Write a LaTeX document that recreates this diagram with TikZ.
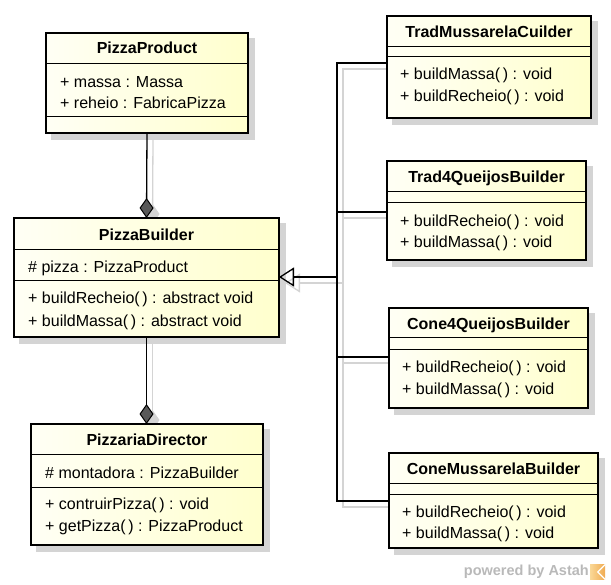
\documentclass[tikz,border=0pt]{standalone}
\usepackage{fontspec}
\setmainfont{Liberation Sans}
\usetikzlibrary{arrows.meta,backgrounds}
\definecolor{boxl}{RGB}{255,255,245}
\definecolor{boxr}{RGB}{255,255,205}
\definecolor{lshd}{RGB}{212,212,212}
\definecolor{wmark}{RGB}{185,185,185}
\definecolor{logoa}{RGB}{240,170,80}
\definecolor{logob}{RGB}{250,215,150}
\begin{document}
\begin{tikzpicture}[x=1pt,y=-1pt,
  classbox/.style={draw=black, line width=2.6pt, left color=boxl, right color=boxr,
    anchor=north west, inner sep=0pt, outer sep=0pt},
  boxshade/.style={fill=lshd, draw=lshd, line width=2.6pt},
  sepline/.style={line width=1pt},
  title/.style={font=\fontsize{16}{19}\selectfont\bfseries, inner sep=0pt, text height=11.5pt, text depth=0pt},
  member/.style={font=\fontsize{16}{19}\selectfont, inner sep=0pt, anchor=west, text height=11.5pt, text depth=0pt},
  conn/.style={line width=1.3pt, draw=black},
  connshd/.style={line width=1.3pt, draw=lshd},
  gentip/.style={-{Triangle[open, length=15pt, width=19pt, line width=1.3pt]}},
  comptip/.style={-{Diamond[length=20pt, width=14pt, line width=1pt, fill=#1]}},
]
\useasboundingbox (0,0) rectangle (611,585);

% junction coordinates
\coordinate (j) at (337,277);
\coordinate (jtm) at (337,63);
\coordinate (jt4) at (337,212);
\coordinate (jc4) at (337,357);
\coordinate (jcm) at (337,501);

% class boxes
\node[classbox, minimum width=202pt, minimum height=100pt] (pp) at (46,33) {};
\node[classbox, minimum width=265pt, minimum height=119pt] (pb) at (14,218) {};
\node[classbox, minimum width=232pt, minimum height=121pt] (pd) at (31,424) {};
\node[classbox, minimum width=204pt, minimum height=102pt] (tm) at (387,16) {};
\node[classbox, minimum width=199pt, minimum height=99pt] (t4) at (387,161) {};
\node[classbox, minimum width=199pt, minimum height=100pt] (c4) at (389,308) {};
\node[classbox, minimum width=209pt, minimum height=95pt] (cm) at (389,453) {};

% shadows of boxes and connectors
\begin{scope}[on background layer]
  \begin{scope}[transform canvas={xshift=6pt, yshift=-6pt}]
    \filldraw[boxshade] (pp.north west) rectangle (pp.south east);
    \filldraw[boxshade] (pb.north west) rectangle (pb.south east);
    \filldraw[boxshade] (pd.north west) rectangle (pd.south east);
    \filldraw[boxshade] (tm.north west) rectangle (tm.south east);
    \filldraw[boxshade] (t4.north west) rectangle (t4.south east);
    \filldraw[boxshade] (c4.north west) rectangle (c4.south east);
    \filldraw[boxshade] (cm.north west) rectangle (cm.south east);
    \draw[connshd, comptip={lshd}] (pp.south) -- (pb.north);
    \draw[connshd, comptip={lshd}] (pb.south) -- (pb.south |- pd.north);
    \draw[connshd] (tm.west |- jtm) -| (jcm) -- (cm.west |- jcm);
    \draw[connshd] (t4.west |- jt4) -- (jt4);
    \draw[connshd] (c4.west |- jc4) -- (jc4);
    \draw[connshd, gentip] (j) -- (pb.east |- j);
  \end{scope}
\end{scope}

% separators
\draw[sepline] (pp.west |- 0,64) -- (pp.east |- 0,64);
\draw[sepline] (pp.west |- 0,117) -- (pp.east |- 0,117);
\draw[sepline] (pb.west |- 0,250) -- (pb.east |- 0,250);
\draw[sepline] (pb.west |- 0,281) -- (pb.east |- 0,281);
\draw[sepline] (pd.west |- 0,455) -- (pd.east |- 0,455);
\draw[sepline] (pd.west |- 0,487) -- (pd.east |- 0,487);
\draw[sepline] (tm.west |- 0,47) -- (tm.east |- 0,47);
\draw[sepline] (tm.west |- 0,57) -- (tm.east |- 0,57);
\draw[sepline] (t4.west |- 0,192) -- (t4.east |- 0,192);
\draw[sepline] (t4.west |- 0,203) -- (t4.east |- 0,203);
\draw[sepline] (c4.west |- 0,338) -- (c4.east |- 0,338);
\draw[sepline] (c4.west |- 0,350) -- (c4.east |- 0,350);
\draw[sepline] (cm.west |- 0,483) -- (cm.east |- 0,483);
\draw[sepline] (cm.west |- 0,494) -- (cm.east |- 0,494);

% texts
\node[title] (ppt) at (147,48) {PizzaProduct};
\node[member] (ppa1) at (60,82) {+ massa : Massa};
\node[member] (ppa2) at (60,103) {+ reheio : FabricaPizza};

\node[title] (pbt) at (146.5,235) {PizzaBuilder};
\node[member] (pba1) at (28,267) {\# pizza : PizzaProduct};
\node[member] (pbm1) at (28,298) {+ buildRecheio(\,) : abstract void};
\node[member] (pbm2) at (28,321) {+ buildMassa(\,) : abstract void};

\node[title] (pdt) at (147,440) {PizzariaDirector};
\node[member] (pda1) at (45,473) {\# montadora : PizzaBuilder};
\node[member] (pdm1) at (45,504) {+ contruirPizza(\,) : void};
\node[member] (pdm2) at (45,526) {+ getPizza(\,) : PizzaProduct};

\node[title] (tmt) at (489,32) {TradMussarelaCuilder};
\node[member] (tmm1) at (400,74) {+ buildMassa(\,) : void};
\node[member] (tmm2) at (400,96) {+ buildRecheio(\,) : void};

\node[title] (t4t) at (486.5,177) {Trad4QueijosBuilder};
\node[member] (t4m1) at (400,221) {+ buildRecheio(\,) : void};
\node[member] (t4m2) at (400,242) {+ buildMassa(\,) : void};

\node[title] (c4t) at (488.5,324) {Cone4QueijosBuilder};
\node[member] (c4m1) at (402,367) {+ buildRecheio(\,) : void};
\node[member] (c4m2) at (402,389) {+ buildMassa(\,) : void};

\node[title] (cmt) at (493.5,469) {ConeMussarelaBuilder};
\node[member] (cmm1) at (402,512) {+ buildRecheio(\,) : void};
\node[member] (cmm2) at (402,533) {+ buildMassa(\,) : void};

% connectors
\draw[conn, comptip={black!65}] (pp.south) -- (pb.north);
\draw[conn, comptip={black!65}] (pb.south) -- (pb.south |- pd.north);
\draw[conn] (tm.west |- jtm) -| (jcm) -- (cm.west |- jcm);
\draw[conn] (t4.west |- jt4) -- (jt4);
\draw[conn] (c4.west |- jc4) -- (jc4);
\draw[conn, gentip] (j) -- (pb.east |- j);

% watermark
\node[font=\fontsize{14.5}{16}\selectfont\bfseries, text=wmark, inner sep=0pt, anchor=east] (wm) at (589,572) {powered by Astah};
\node[inner sep=0pt, minimum width=15pt, minimum height=15pt, left color=logob, right color=logoa, anchor=west] (logo) at (590,572) {};
\draw[white, line width=1.2pt] (logo.north east) -- (logo.center) -- (logo.south east);
\end{tikzpicture}
\end{document}
